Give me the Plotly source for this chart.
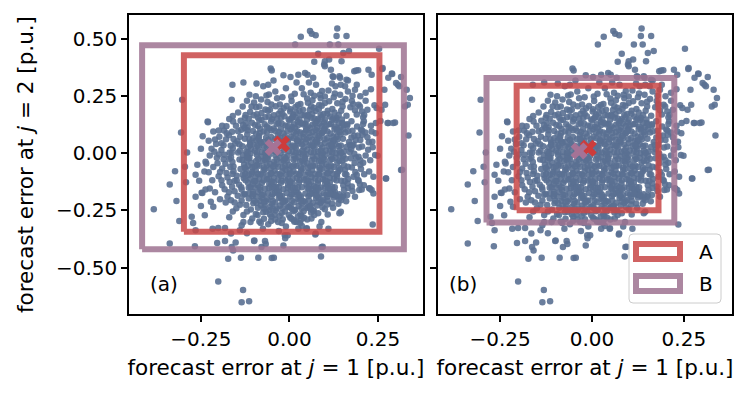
import plotly.graph_objects as go

# window is 748x399; the page body adds an 8px margin, so the figure is 740x391
OFF = 8
W, H = 748 - OFF, 399 - OFF

# ---------------- data (forecast errors, p.u.) ----------------
core_points = [
    (-0.062,0.224),(-0.027,0.213),(0.006,0.229),(0.031,0.216),(0.052,0.221),(0.084,0.211),
    (-0.094,0.201),(-0.068,0.192),(-0.039,0.206),(-0.016,0.197),(0.017,0.203),(0.038,0.191),(0.069,0.199),(0.091,0.208),(0.121,0.194),
    (-0.111,0.181),(-0.079,0.176),(-0.061,0.186),(-0.031,0.172),(0.002,0.183),(0.019,0.177),(0.051,0.168),(0.074,0.185),(0.096,0.172),(0.127,0.179),(0.146,0.186),
    (-0.126,0.155),(-0.101,0.166),(-0.068,0.158),(-0.049,0.149),(-0.014,0.162),(0.006,0.153),(0.036,0.167),(0.062,0.156),(0.081,0.149),(0.115,0.161),(0.133,0.154),(0.161,0.164),
    (-0.138,0.142),(-0.106,0.134),(-0.085,0.145),(-0.052,0.139),(-0.031,0.131),(0.001,0.143),(0.024,0.137),(0.044,0.129),(0.077,0.141),(0.097,0.135),(0.131,0.146),(0.149,0.132),(0.175,0.14),
    (-0.151,0.121),(-0.118,0.113),(-0.097,0.124),(-0.064,0.117),(-0.045,0.109),(-0.011,0.122),(0.008,0.115),(0.039,0.126),(0.059,0.111),(0.092,0.119),(0.112,0.127),(0.144,0.114),(0.163,0.122),(0.191,0.117),
    (-0.162,0.094),(-0.136,0.103),(-0.103,0.098),(-0.084,0.089),(-0.051,0.101),(-0.03,0.093),(0.003,0.105),(0.022,0.096),(0.055,0.088),(0.074,0.102),(0.107,0.095),(0.127,0.107),(0.158,0.091),(0.178,0.099),(0.202,0.104),
    (-0.171,0.079),(-0.139,0.072),(-0.119,0.083),(-0.086,0.076),(-0.066,0.068),(-0.033,0.081),(-0.013,0.073),(0.019,0.085),(0.04,0.071),(0.072,0.079),(0.092,0.087),(0.124,0.074),(0.144,0.082),(0.175,0.069),(0.193,0.078),
    (-0.179,0.061),(-0.147,0.053),(-0.126,0.064),(-0.094,0.057),(-0.073,0.049),(-0.041,0.062),(-0.021,0.055),(0.012,0.066),(0.032,0.051),(0.064,0.059),(0.085,0.067),(0.116,0.054),(0.136,0.062),(0.168,0.049),(0.187,0.058),
    (-0.186,0.035),(-0.153,0.043),(-0.133,0.031),(-0.101,0.039),(-0.08,0.046),(-0.048,0.033),(-0.028,0.041),(0.005,0.029),(0.025,0.044),(0.057,0.036),(0.078,0.047),(0.11,0.032),(0.13,0.04),(0.161,0.028),(0.181,0.038),
    (-0.192,0.014),(-0.16,0.022),(-0.14,0.011),(-0.108,0.019),(-0.087,0.026),(-0.055,0.013),(-0.035,0.021),(-0.002,0.009),(0.018,0.024),(0.05,0.016),(0.071,0.027),(0.103,0.012),(0.123,0.02),(0.154,0.008),(0.174,0.018),(0.196,0.025),
    (-0.183,-0.006),(-0.163,0.002),(-0.131,-0.009),(-0.11,-0.001),(-0.078,0.006),(-0.058,-0.007),(-0.025,0.001),(-0.005,-0.011),(0.027,0.004),(0.048,-0.004),(0.08,0.007),(0.1,-0.008),(0.132,0.0),(0.152,-0.012),(0.183,-0.002),
    (-0.186,-0.026),(-0.165,-0.018),(-0.133,-0.029),(-0.113,-0.021),(-0.08,-0.014),(-0.06,-0.027),(-0.028,-0.019),(-0.007,-0.031),(0.025,-0.016),(0.045,-0.024),(0.078,-0.013),(0.098,-0.028),(0.13,-0.02),(0.149,-0.032),(0.173,-0.022),(0.195,-0.015),
    (-0.181,-0.046),(-0.161,-0.038),(-0.128,-0.049),(-0.108,-0.041),(-0.076,-0.034),(-0.055,-0.047),(-0.023,-0.039),(-0.002,-0.051),(0.03,-0.036),(0.05,-0.044),(0.083,-0.033),(0.103,-0.048),(0.135,-0.04),(0.154,-0.052),(0.184,-0.042),
    (-0.19,-0.066),(-0.158,-0.058),(-0.138,-0.069),(-0.105,-0.061),(-0.085,-0.054),(-0.053,-0.067),(-0.032,-0.059),(0.0,-0.071),(0.02,-0.056),(0.053,-0.064),(0.073,-0.053),(0.105,-0.068),(0.125,-0.06),(0.157,-0.072),(0.176,-0.062),
    (-0.178,-0.086),(-0.158,-0.078),(-0.125,-0.089),(-0.105,-0.081),(-0.073,-0.074),(-0.052,-0.087),(-0.02,-0.079),(0.0,-0.091),(0.033,-0.076),(0.053,-0.084),(0.085,-0.073),(0.106,-0.088),(0.138,-0.08),(0.157,-0.092),(0.186,-0.082),
    (-0.175,-0.106),(-0.149,-0.098),(-0.129,-0.109),(-0.096,-0.101),(-0.076,-0.094),(-0.044,-0.107),(-0.023,-0.099),(0.009,-0.111),(0.029,-0.096),(0.062,-0.104),(0.082,-0.093),(0.114,-0.108),(0.134,-0.1),(0.166,-0.112),(0.181,-0.103),
    (-0.169,-0.126),(-0.149,-0.118),(-0.117,-0.129),(-0.096,-0.121),(-0.064,-0.114),(-0.044,-0.127),(-0.011,-0.119),(0.009,-0.131),(0.041,-0.116),(0.062,-0.124),(0.094,-0.113),(0.114,-0.128),(0.146,-0.12),(0.164,-0.132),
    (-0.162,-0.146),(-0.142,-0.138),(-0.11,-0.149),(-0.089,-0.141),(-0.057,-0.134),(-0.037,-0.147),(-0.004,-0.139),(0.016,-0.151),(0.048,-0.136),(0.069,-0.144),(0.101,-0.133),(0.121,-0.148),(0.152,-0.14),(0.165,-0.152),
    (-0.155,-0.166),(-0.135,-0.158),(-0.103,-0.169),(-0.082,-0.161),(-0.05,-0.154),(-0.03,-0.167),(0.003,-0.159),(0.023,-0.171),(0.055,-0.156),(0.076,-0.164),(0.108,-0.153),(0.128,-0.168),(0.154,-0.16),
    (-0.146,-0.186),(-0.126,-0.178),(-0.094,-0.189),(-0.073,-0.181),(-0.041,-0.174),(-0.021,-0.187),(0.012,-0.179),(0.032,-0.191),(0.064,-0.176),(0.085,-0.184),(0.117,-0.173),(0.135,-0.188),
    (-0.135,-0.206),(-0.115,-0.198),(-0.083,-0.209),(-0.062,-0.201),(-0.03,-0.194),(-0.01,-0.207),(0.023,-0.199),(0.043,-0.211),(0.075,-0.196),(0.096,-0.204),(0.125,-0.193),
    (-0.122,-0.226),(-0.102,-0.218),(-0.07,-0.229),(-0.049,-0.221),(-0.017,-0.214),(0.003,-0.227),(0.036,-0.219),(0.056,-0.231),(0.088,-0.216),(0.107,-0.224),
    (-0.109,-0.246),(-0.089,-0.238),(-0.057,-0.249),(-0.036,-0.241),(-0.004,-0.234),(0.016,-0.247),(0.049,-0.239),(0.069,-0.251),(0.093,-0.236),
    (-0.095,-0.266),(-0.074,-0.258),(-0.042,-0.269),(-0.022,-0.261),(0.011,-0.254),(0.031,-0.267),(0.061,-0.259),
    (-0.072,-0.286),(-0.051,-0.278),(-0.019,-0.289),(0.002,-0.281),(0.034,-0.274),
]

# extra points in the densest inner part of the cloud
core_fill_points = [
    (-0.051,0.213),(-0.008,0.207),(0.024,0.211),(0.061,0.206),
    (-0.055,0.19),(-0.025,0.185),(0.003,0.193),(0.028,0.186),(0.057,0.189),(0.083,0.194),(0.108,0.186),
    (-0.092,0.171),(-0.044,0.166),(-0.02,0.173),(0.011,0.169),(0.043,0.165),(0.064,0.172),(0.088,0.167),(0.107,0.173),(0.139,0.168),
    (-0.115,0.152),(-0.079,0.147),(-0.035,0.151),(-0.002,0.148),(0.02,0.155),(0.049,0.146),(0.071,0.151),(0.1,0.147),(0.124,0.153),(0.148,0.148),
    (-0.123,0.131),(-0.07,0.127),(-0.022,0.13),(0.013,0.127),(0.033,0.132),(0.066,0.126),(0.084,0.13),(0.117,0.128),(0.139,0.133),(0.163,0.127),
    (-0.127,0.111),(-0.083,0.107),(-0.058,0.11),(-0.024,0.106),(0.016,0.111),(0.047,0.106),(0.078,0.112),(0.099,0.108),(0.134,0.109),(0.152,0.105),
    (-0.094,0.086),(-0.064,0.092),(-0.017,0.087),(0.011,0.091),(0.039,0.085),(0.065,0.093),(0.091,0.089),(0.116,0.087),(0.141,0.092),
    (-0.103,0.066),(-0.052,0.071),(-0.026,0.067),(0.004,0.072),(0.028,0.066),(0.056,0.07),(0.082,0.075),(0.107,0.067),(0.133,0.071),
    (-0.111,0.047),(-0.084,0.052),(-0.056,0.046),(-0.031,0.05),(-0.004,0.047),(0.022,0.053),(0.046,0.048),(0.073,0.051),(0.1,0.045),(0.123,0.051),
    (-0.117,0.027),(-0.091,0.032),(-0.064,0.026),(-0.038,0.03),(-0.012,0.025),(0.015,0.031),(0.041,0.027),(0.067,0.032),(0.093,0.025),(0.12,0.029),(0.145,0.034),
    (-0.122,0.007),(-0.097,0.011),(-0.068,0.005),(-0.044,0.01),(-0.016,0.013),(0.009,0.007),(0.036,0.011),(0.061,0.006),(0.088,0.012),(0.114,0.008),(0.141,0.011),
    (-0.12,-0.014),(-0.092,-0.008),(-0.067,-0.013),(-0.04,-0.009),(-0.014,-0.015),(0.013,-0.01),(0.038,-0.006),(0.065,-0.013),(0.09,-0.009),(0.117,-0.014),(0.142,-0.008),
    (-0.121,-0.03),(-0.094,-0.034),(-0.069,-0.029),(-0.043,-0.036),(-0.016,-0.031),(0.011,-0.027),(0.036,-0.033),(0.063,-0.03),(0.089,-0.035),(0.115,-0.029),(0.141,-0.034),
    (-0.117,-0.055),(-0.091,-0.05),(-0.064,-0.053),(-0.039,-0.049),(-0.012,-0.056),(0.014,-0.051),(0.041,-0.047),(0.066,-0.054),(0.092,-0.05),(0.118,-0.055),
    (-0.122,-0.071),(-0.095,-0.075),(-0.069,-0.07),(-0.042,-0.076),(-0.011,-0.072),(0.011,-0.078),(0.037,-0.069),(0.064,-0.074),(0.09,-0.07),(0.116,-0.075),(0.143,-0.071),
    (-0.115,-0.095),(-0.089,-0.091),(-0.062,-0.096),(-0.035,-0.09),(-0.009,-0.094),(0.019,-0.089),(0.045,-0.095),(0.071,-0.091),(0.097,-0.096),(0.122,-0.09),
    (-0.111,-0.11),(-0.085,-0.115),(-0.058,-0.111),(-0.032,-0.117),(-0.004,-0.113),(0.021,-0.108),(0.047,-0.114),(0.073,-0.11),(0.1,-0.116),(0.126,-0.111),
    (-0.104,-0.134),(-0.078,-0.13),(-0.051,-0.135),(-0.024,-0.129),(0.002,-0.133),(0.027,-0.128),(0.055,-0.135),(0.08,-0.131),(0.107,-0.136),
    (-0.097,-0.15),(-0.069,-0.155),(-0.044,-0.151),(-0.017,-0.157),(0.009,-0.153),(0.035,-0.148),(0.062,-0.154),(0.088,-0.15),(0.114,-0.156),
    (-0.114,-0.176),(-0.088,-0.17),(-0.061,-0.175),(-0.035,-0.169),(-0.008,-0.174),(0.019,-0.17),(0.045,-0.176),(0.071,-0.17),(0.097,-0.175),(0.123,-0.169),
    (-0.104,-0.188),(-0.078,-0.194),(-0.051,-0.19),(-0.025,-0.195),(0.002,-0.189),(0.028,-0.194),(0.054,-0.188),(0.081,-0.193),(0.107,-0.19),
    (-0.093,-0.216),(-0.066,-0.21),(-0.04,-0.215),(-0.013,-0.209),(0.013,-0.214),(0.039,-0.21),(0.066,-0.216),(0.092,-0.21),
    (-0.08,-0.228),(-0.054,-0.234),(-0.027,-0.229),(-0.001,-0.235),(0.026,-0.23),(0.052,-0.234),(0.078,-0.228),
    (-0.066,-0.256),(-0.039,-0.25),(-0.013,-0.255),(0.014,-0.249),(0.04,-0.254),(0.066,-0.25),
    (-0.055,-0.268),(-0.028,-0.274),(-0.002,-0.27),(0.024,-0.275),
]

# third layer filling the very centre of the cloud
centre_points = [
    (-0.089,0.157),(-0.058,0.161),(-0.024,0.155),(0.009,0.159),(0.028,0.148),(0.054,0.163),(0.091,0.158),(0.121,0.147),
    (-0.131,0.124),(-0.089,0.119),(-0.036,0.127),(-0.005,0.118),(0.025,0.124),(0.052,0.118),(0.073,0.13),(0.103,0.121),(0.128,0.117),(0.154,0.125),
    (-0.145,0.097),(-0.119,0.101),(-0.073,0.095),(-0.041,0.099),(-0.006,0.097),(0.031,0.091),(0.047,0.1),(0.083,0.097),(0.098,0.1),(0.134,0.098),(0.166,0.096),
    (-0.158,0.063),(-0.113,0.06),(-0.087,0.064),(-0.06,0.059),(-0.033,0.064),(-0.003,0.061),(0.021,0.058),(0.048,0.062),(0.077,0.057),(0.099,0.062),(0.126,0.058),(0.151,0.064),
    (-0.166,0.033),(-0.141,0.038),(-0.111,0.036),(-0.072,0.031),(-0.058,0.039),(-0.019,0.036),(0.009,0.034),(0.035,0.039),(0.062,0.033),(0.087,0.038),(0.117,0.036),(0.139,0.031),(0.171,0.036),
    (-0.169,0.004),(-0.145,0.003),(-0.118,0.001),(-0.092,0.004),(-0.066,0.0),(-0.036,0.005),(0.018,0.003),(0.041,0.0),(0.069,0.003),(0.094,0.0),(0.121,0.004),(0.146,0.002),(0.17,0.006),
    (-0.17,-0.024),(-0.141,-0.027),(-0.116,-0.022),(-0.088,-0.025),(-0.064,-0.022),(-0.036,-0.026),(-0.011,-0.023),(0.017,-0.024),(0.043,-0.021),(0.071,-0.026),(0.095,-0.022),(0.121,-0.025),(0.158,-0.024),
    (-0.167,-0.06),(-0.126,-0.063),(-0.099,-0.058),(-0.072,-0.061),(-0.046,-0.057),(-0.019,-0.062),(0.007,-0.058),(0.032,-0.061),(0.059,-0.057),(0.085,-0.062),(0.111,-0.058),(0.139,-0.063),(0.165,-0.059),
    (-0.161,-0.091),(-0.132,-0.094),(-0.107,-0.088),(-0.081,-0.092),(-0.052,-0.089),(-0.027,-0.093),(0.004,-0.087),(0.028,-0.092),(0.058,-0.089),(0.083,-0.093),(0.109,-0.087),(0.134,-0.091),(0.161,-0.094),
    (-0.155,-0.121),(-0.124,-0.118),(-0.1,-0.122),(-0.073,-0.119),(-0.05,-0.123),(-0.022,-0.12),(0.002,-0.123),(0.029,-0.118),(0.053,-0.121),(0.081,-0.119),(0.105,-0.122),(0.133,-0.119),(0.156,-0.121),
    (-0.136,-0.148),(-0.115,-0.151),(-0.083,-0.149),(-0.058,-0.152),(-0.03,-0.148),(-0.005,-0.151),(0.024,-0.149),(0.051,-0.152),(0.075,-0.148),(0.101,-0.151),(0.128,-0.148),
    (-0.13,-0.181),(-0.103,-0.178),(-0.078,-0.182),(-0.048,-0.179),(-0.027,-0.183),(0.006,-0.18),(0.028,-0.182),(0.058,-0.179),(0.076,-0.183),(0.104,-0.18),(0.125,-0.182),
    (-0.1,-0.208),(-0.072,-0.212),(-0.047,-0.209),(-0.02,-0.213),(0.007,-0.208),(0.031,-0.211),(0.055,-0.207),(0.082,-0.212),(0.108,-0.208),
    (-0.072,-0.241),(-0.047,-0.244),(-0.019,-0.239),(0.006,-0.243),(0.034,-0.24),(0.06,-0.243),
]

halo_points = [
    (0.065,0.232),(0.088,0.241),(0.112,0.228),(0.135,0.219),(0.158,0.238),(0.176,0.229),(0.195,0.212),(0.172,0.201),
    (0.15,0.205),(0.128,0.262),(0.092,0.272),(0.178,0.252),(0.205,0.183),(0.185,0.188),(0.07,0.252),(0.04,0.258),
    (0.005,0.248),(-0.035,0.241),(-0.058,0.257),(-0.1,0.222),(-0.132,0.205),(-0.145,0.178),(-0.16,0.163),(0.19,0.3),
    (0.215,0.265),(0.12,0.305),(0.055,0.31),(-0.01,0.285),(-0.045,0.318),(0.165,0.318),
    (0.208,0.128),(0.214,0.091),(0.2,0.058),(0.222,0.015),(0.208,-0.041),(0.211,-0.092),(0.19,-0.095),(0.199,-0.135),
    (0.176,-0.145),(0.178,-0.165),(0.163,-0.182),(0.15,-0.19),(0.228,-0.03),(0.232,0.095),
    (-0.198,0.072),(-0.207,0.041),(-0.199,-0.005),(-0.203,-0.043),(-0.196,-0.082),(-0.192,-0.118),(-0.183,-0.157),(-0.171,-0.17),
    (-0.165,-0.205),(-0.178,0.118),(-0.185,0.1),(-0.225,-0.01),(-0.228,0.055),(-0.218,-0.118),(-0.245,0.075),(-0.26,-0.05),(-0.215,0.095),
    (-0.12,-0.255),(-0.14,-0.225),(-0.105,-0.285),(-0.085,-0.298),(-0.052,-0.296),(-0.022,-0.305),(0.012,-0.292),(0.041,-0.282),
    (0.062,-0.285),(0.081,-0.262),(0.108,-0.268),(0.123,-0.238),(0.138,-0.221),(0.152,-0.185),(-0.155,-0.215),(-0.16,-0.255),
    (-0.135,-0.315),(-0.075,-0.33),(0.035,-0.318),(0.085,-0.32),
]

ring_points = [
    (-0.12,0.23),(-0.095,0.25),(-0.04,0.27),(-0.02,0.245),(0.015,0.26),(0.035,0.285),(0.06,0.265),(0.075,0.3),
    (0.11,0.275),(0.125,0.245),(0.15,0.225),(0.165,0.27),(0.18,0.215),(0.2,0.25),(0.215,0.23),(0.22,0.19),
    (0.02,0.31),(-0.06,0.3),(0.05,0.24),(0.1,0.22),(-0.08,0.235),(0.145,0.3),(0.23,0.28),(0.24,0.21),
    (0.21,0.14),(0.205,0.1),(0.22,0.07),(0.205,0.03),(0.215,-0.01),(0.2,-0.05),(0.225,-0.08),(0.195,-0.12),
    (0.21,-0.14),(0.185,-0.19),(0.19,0.17),(0.23,0.12),(0.2,-0.03),
    (-0.2,0.1),(-0.21,0.06),(-0.22,0.02),(-0.205,-0.02),(-0.215,-0.06),(-0.2,-0.1),(-0.19,-0.14),(-0.21,-0.17),
    (-0.175,-0.19),(-0.17,0.15),(-0.19,0.12),(-0.24,-0.08),(-0.255,-0.12),(-0.265,-0.19),(-0.25,-0.23),(-0.235,-0.045),(-0.25,0.02),
    (-0.15,-0.24),(-0.13,-0.27),(-0.11,-0.3),(-0.09,-0.27),(-0.06,-0.31),(-0.04,-0.29),(-0.01,-0.32),(0.02,-0.3),
    (0.05,-0.29),(0.07,-0.27),(0.09,-0.3),(0.1,-0.245),(0.12,-0.22),(0.14,-0.2),(0.16,-0.21),(0.11,-0.33),
    (-0.17,-0.28),(-0.03,-0.34),(0.06,-0.23),(-0.12,-0.35),
]

outlier_points = [
    (0.032,0.510),(0.058,0.535),(0.063,0.523),(0.074,0.516),(0.135,0.546),(0.133,0.513),(0.161,0.513),(0.016,0.476),
    (0.114,0.476),(0.138,0.476),(0.081,0.435),(0.152,0.439),(0.168,0.447),(0.253,0.457),(0.070,0.400),(0.100,0.403),
    (0.112,0.410),(0.147,0.403),(-0.053,0.371),(-0.050,0.362),(-0.017,0.341),(0.003,0.334),(0.025,0.344),(0.044,0.351),
    (0.051,0.344),(0.067,0.330),(0.100,0.381),(0.117,0.366),(0.124,0.334),(0.143,0.330),(0.161,0.322),(0.183,0.359),
    (0.194,0.363),(0.223,0.366),(0.232,0.344),(0.262,0.369),(0.279,0.330),(0.289,0.349),(0.315,0.334),(0.306,0.300),
    (0.331,0.278),(0.340,0.242),(0.334,0.212),(0.326,0.205),(0.268,0.278),(0.270,0.212),(0.260,0.190),(0.246,0.198),
    (0.244,0.132),(0.279,0.132),(0.298,0.135),(0.336,0.078),(0.315,-0.073),(0.272,-0.110),(0.232,-0.161),(0.237,-0.176),
    (0.197,-0.161),(0.237,-0.103),(0.242,-0.007),(0.243,0.088),(0.234,0.051),(0.206,0.081),(0.211,0.168),(0.199,0.205),
    (0.185,0.278),(0.157,0.293),(0.143,0.256),(0.130,0.293),(0.100,0.249),(0.086,0.256),
    (0.098,0.388),(0.122,0.337),(0.141,0.337),(0.188,0.362),(0.290,0.347),(0.301,0.308),(0.310,0.293),(0.263,0.373),
    (0.257,0.141),(0.277,0.133),(0.293,0.133),(0.224,0.048),(0.235,0.026),(0.249,-0.011),(0.318,-0.072),(0.273,-0.110),
    (0.202,-0.069),(0.225,-0.153),(0.141,-0.179),(0.117,-0.179),(0.082,-0.157),(0.183,0.077),(0.178,0.033),(0.188,-0.018),(0.208,0.158),
    (-0.161,0.300),(-0.130,0.310),(-0.093,0.305),(-0.074,0.293),(-0.065,0.253),(-0.163,0.234),(-0.113,0.256),(-0.231,0.139),
    (-0.303,0.234),(-0.306,0.091),(-0.289,0.004),(-0.295,-0.059),(-0.292,-0.127),(-0.323,-0.078),(-0.338,-0.136),(-0.319,-0.209),
    (-0.383,-0.245),(-0.311,-0.296),(-0.276,-0.278),(-0.272,-0.305),(-0.338,-0.395),(-0.267,-0.407),(-0.265,-0.337),(-0.239,-0.271),
    (-0.248,-0.173),(-0.237,-0.158),(-0.225,-0.154),(-0.222,-0.212),(-0.215,-0.234),(-0.196,-0.201),(-0.237,-0.037),(-0.212,0.007),
    (-0.192,0.044),(-0.177,0.088),(-0.159,0.139),(-0.124,0.168),(-0.107,0.205),(-0.085,0.205),(-0.230,0.136),(-0.265,-0.094),
    (-0.228,-0.083),(-0.246,-0.174),(-0.180,-0.215),
    (-0.217,-0.330),(-0.204,-0.392),(-0.182,-0.384),(-0.173,-0.461),(-0.137,-0.457),(-0.201,-0.561),(-0.131,-0.598),(-0.135,-0.652),
    (-0.114,-0.647),(-0.163,-0.410),(-0.159,-0.425),(-0.088,-0.457),(-0.079,-0.410),(-0.050,-0.458),(-0.069,-0.384),(-0.017,-0.403),
    (-0.013,-0.359),(-0.099,-0.381),(-0.140,-0.337),(-0.165,-0.351),(-0.182,-0.327),(-0.201,-0.327),(-0.130,-0.300),(-0.081,-0.305),
    (0.025,-0.330),(0.048,-0.330),(0.074,-0.351),(0.091,-0.410),(0.089,-0.451),(0.030,-0.305),(0.006,-0.286),(-0.032,-0.300),
    (0.145,-0.256),(0.129,-0.183),(0.114,-0.176),(0.145,-0.205),(0.204,-0.158),(0.227,-0.154),(0.194,-0.117),
    (-0.152,-0.390),(-0.100,-0.384),(-0.067,-0.397),(-0.044,-0.457),(-0.012,-0.372),(-0.005,-0.358),(0.014,-0.299),
    (0.032,-0.292),(0.141,-0.262),(0.235,-0.311),(0.094,-0.409),(0.073,-0.355),(0.049,-0.328),
]

# uncertainty sets: [x_min, x_max, y_min, y_max] per panel
box_A = {"a": [-0.298, 0.254, -0.343, 0.429], "b": [-0.205, 0.181, -0.249, 0.296]}
box_B = {"a": [-0.416, 0.323, -0.420, 0.473], "b": [-0.287, 0.224, -0.303, 0.329]}
# centre markers (A, B)
centre_A = {"a": (-0.022, 0.041), "b": (-0.010, 0.022)}
centre_B = {"a": (-0.046, 0.025), "b": (-0.035, 0.010)}

x_ranges = {"a": [-0.453, 0.377], "b": [-0.419, 0.381]}
y_range = [-0.703, 0.605]
x_ticks = [-0.25, 0.0, 0.25]
x_ticklabels = ["\u22120.25", "0.00", "0.25"]
y_ticks = [-0.5, -0.25, 0.0, 0.25, 0.5]
y_ticklabels = ["\u22120.50", "\u22120.25", "0.00", "0.25", "0.50"]
panel_labels = {"a": "(a)", "b": "(b)"}
legend_labels = ["A", "B"]

PT_COLOR = "rgba(90,112,146,0.9)"
A_COLOR = "rgba(200,70,70,0.85)"
B_COLOR = "rgba(158,114,144,0.85)"
A_X = "rgb(205,60,60)"
B_X = "rgb(165,115,150)"
FONT = "DejaVu Sans"
TITLE_SIZE = 21.5

all_pts = core_points + core_fill_points + centre_points + halo_points + ring_points + outlier_points
px = [p[0] for p in all_pts]
py = [p[1] for p in all_pts]

# target-screen pixel -> paper fraction
def fx(v): return (v - OFF) / W
def fy(v): return 1 - (v - OFF) / H

fig = go.Figure()

def rect(b):
    x0, x1, y0, y1 = b
    return [x0, x1, x1, x0, x0], [y0, y0, y1, y1, y0]

for key, xa, ya in [("a", "x", "y"), ("b", "x2", "y2")]:
    fig.add_trace(go.Scatter(x=px, y=py, mode="markers", xaxis=xa, yaxis=ya,
                             marker=dict(size=6.5, color=PT_COLOR, line=dict(width=0)),
                             showlegend=False, hoverinfo="skip"))
    for b, c in [(box_B[key], B_COLOR), (box_A[key], A_COLOR)]:
        rx, ry = rect(b)
        fig.add_trace(go.Scatter(x=rx, y=ry, mode="lines", xaxis=xa, yaxis=ya,
                                 line=dict(color=c, width=6), showlegend=False, hoverinfo="skip"))
    for cen, c in [(centre_A[key], A_X), (centre_B[key], B_X)]:
        fig.add_trace(go.Scatter(x=[cen[0]], y=[cen[1]], mode="markers", xaxis=xa, yaxis=ya,
                                 marker=dict(symbol="x", size=15, color=c, line=dict(width=0)),
                                 showlegend=False, hoverinfo="skip"))

axis_common = dict(showline=True, linecolor="black", linewidth=1.5, mirror=True,
                   ticks="outside", ticklen=6, tickwidth=1.5, tickcolor="black",
                   showgrid=False, zeroline=False, automargin=False,
                   tickfont=dict(family=FONT, size=20, color="black"))

xtitle = "forecast error at <i>j</i> = 1 [p.u.]"
ydom = [fy(314), fy(15)]
fig.update_layout(
    width=W, height=H, plot_bgcolor="white", paper_bgcolor="white",
    margin=dict(l=0, r=0, t=0, b=0),
    xaxis=dict(domain=[fx(129), fx(423)], range=x_ranges["a"], tickvals=x_ticks, ticktext=x_ticklabels,
               title=dict(text=xtitle, font=dict(family=FONT, size=TITLE_SIZE, color="black"), standoff=10),
               anchor="y", **axis_common),
    xaxis2=dict(domain=[fx(438), fx(732)], range=x_ranges["b"], tickvals=x_ticks, ticktext=x_ticklabels,
                title=dict(text=xtitle, font=dict(family=FONT, size=TITLE_SIZE, color="black"), standoff=10),
                anchor="y2", **axis_common),
    yaxis=dict(domain=ydom, range=y_range, tickvals=y_ticks, ticktext=y_ticklabels,
               title=dict(text="forecast error at <i>j</i> = 2 [p.u.]",
                          font=dict(family=FONT, size=TITLE_SIZE, color="black"), standoff=16),
               anchor="x", **axis_common),
    yaxis2=dict(domain=ydom, range=y_range, tickvals=y_ticks,
                showticklabels=False, anchor="x2", matches="y", **axis_common),
)

# panel labels
for key, xr, xpos in [("a", "x domain", 0.065), ("b", "x2 domain", 0.03)]:
    fig.add_annotation(text=panel_labels[key], xref=xr, yref="y domain", x=xpos, y=0.1,
                       xanchor="left", yanchor="middle", showarrow=False,
                       font=dict(family=FONT, size=20, color="black"))

# legend (drawn manually in target-screen pixel space)
lx0, lx1, ly0, ly1, r = 629, 721, 234, 303, 4
path = (f"M {fx(lx0 + r)},{fy(ly0)} L {fx(lx1 - r)},{fy(ly0)} Q {fx(lx1)},{fy(ly0)} {fx(lx1)},{fy(ly0 + r)} "
        f"L {fx(lx1)},{fy(ly1 - r)} Q {fx(lx1)},{fy(ly1)} {fx(lx1 - r)},{fy(ly1)} "
        f"L {fx(lx0 + r)},{fy(ly1)} Q {fx(lx0)},{fy(ly1)} {fx(lx0)},{fy(ly1 - r)} "
        f"L {fx(lx0)},{fy(ly0 + r)} Q {fx(lx0)},{fy(ly0)} {fx(lx0 + r)},{fy(ly0)} Z")
fig.add_shape(type="path", path=path, xref="paper", yref="paper",
              fillcolor="rgba(255,255,255,0.8)", line=dict(color="#cccccc", width=1))
for i, (lab, c) in enumerate(zip(legend_labels, [A_COLOR, B_COLOR])):
    yc = 251.5 + i * 32
    fig.add_shape(type="rect", xref="paper", yref="paper",
                  x0=fx(636), x1=fx(680), y0=fy(yc - 7.5), y1=fy(yc + 7.5),
                  line=dict(color=c, width=6), fillcolor="rgba(0,0,0,0)")
    fig.add_annotation(text=lab, xref="paper", yref="paper", x=fx(697), y=fy(yc),
                       xanchor="left", yanchor="middle", showarrow=False,
                       font=dict(family=FONT, size=20, color="black"))

fig.write_html("out.html")
